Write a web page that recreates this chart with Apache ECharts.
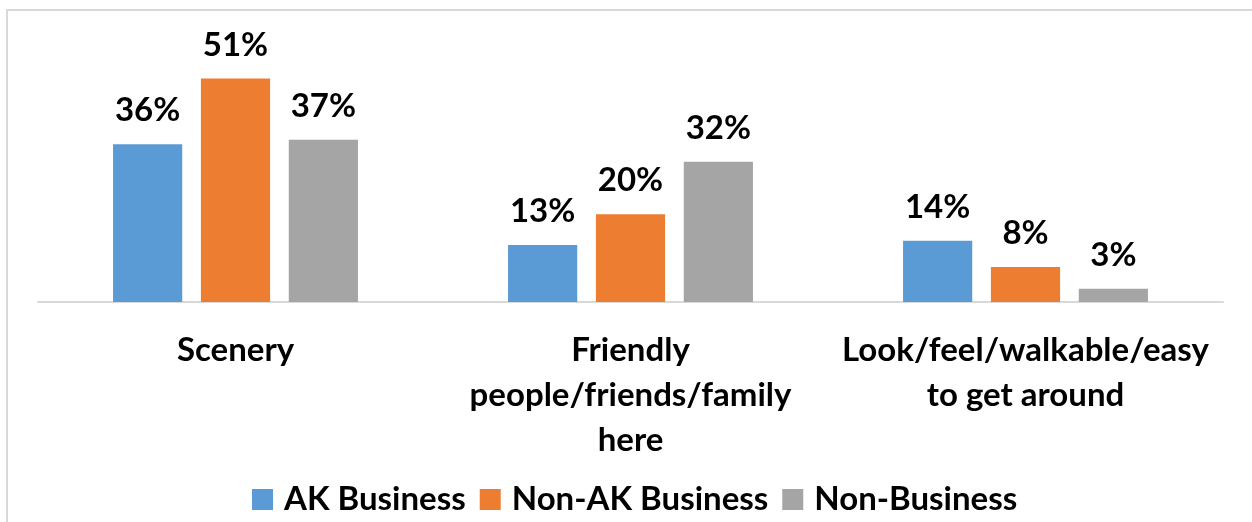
<!DOCTYPE html>
<html>
<head>
<meta charset="utf-8">
<title>What people like most</title>
<script src="https://cdn.jsdelivr.net/npm/echarts@6/dist/echarts.min.js"></script>
<style>
  html, body { margin: 0; padding: 0; background: #ffffff; }
  #wrap { position: relative; width: 1252px; height: 522px; overflow: hidden; }
  #chart { position: absolute; left: 0; top: 0; width: 1252px; height: 522px; }
  #frame {
    position: absolute; left: 6px; top: 9px; width: 1300px; height: 600px;
    border-left: 2px solid #d9d9d9; border-top: 2px solid #d9d9d9;
    pointer-events: none;
  }
</style>
</head>
<body>
<div id="wrap">
  <div id="chart"></div>
  <div id="frame"></div>
</div>
<script>
// Categories and shares (percent) per respondent group
const categories = [
  'Scenery',
  'Friendly\npeople/friends/family\nhere',
  'Look/feel/walkable/easy\nto get around'
];
const akBusiness    = [36, 13, 14];
const nonAkBusiness = [51, 20, 8];
const nonBusiness   = [37, 32, 3];
const seriesNames   = ['AK Business', 'Non-AK Business', 'Non-Business'];
const colors        = ['#5B9BD5', '#ED7D31', '#A5A5A5'];

const FONT = 'Lato';

function barSeries(name, data, color) {
  return {
    name: name,
    type: 'bar',
    data: data,
    barGap: '27%',
    barCategoryGap: '38%',
    itemStyle: { color: color },
    label: {
      show: true,
      position: 'top',
      distance: 17,
      formatter: '{c}%',
      fontFamily: FONT,
      fontWeight: 'bold',
      fontSize: 33,
      color: '#000000'
    }
  };
}

const chart = echarts.init(document.getElementById('chart'), null, { renderer: 'canvas' });
chart.setOption({
  animation: false,
  backgroundColor: 'transparent',
  grid: { left: 38, right: 29, top: 39, bottom: 220, containLabel: false },
  legend: {
    data: seriesNames,
    left: 247,
    top: 478,
    icon: 'rect',
    itemWidth: 21,
    itemHeight: 21,
    itemGap: 14,
    textStyle: {
      fontFamily: FONT,
      fontWeight: 'bold',
      fontSize: 33,
      color: '#000000',
      padding: [0, 0, 0, 6]
    }
  },
  xAxis: {
    type: 'category',
    data: categories,
    axisLine: { show: true, lineStyle: { color: '#d9d9d9', width: 2 } },
    axisTick: { show: false },
    axisLabel: {
      interval: 0,
      margin: 26,
      fontFamily: FONT,
      fontWeight: 'bold',
      fontSize: 33,
      lineHeight: 45,
      color: '#000000',
      align: 'center'
    }
  },
  yAxis: {
    type: 'value',
    min: 0,
    max: 60,
    show: false,
    splitLine: { show: false }
  },
  series: [
    barSeries(seriesNames[0], akBusiness, colors[0]),
    barSeries(seriesNames[1], nonAkBusiness, colors[1]),
    barSeries(seriesNames[2], nonBusiness, colors[2])
  ]
});
</script>
</body>
</html>
